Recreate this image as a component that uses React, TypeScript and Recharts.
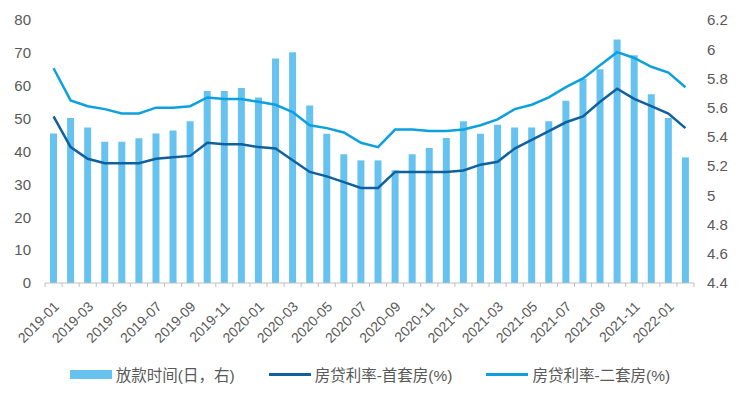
import { ComposedChart, Bar, Line, XAxis, YAxis, Legend } from 'recharts';

const months = [
  '2019-01', '2019-02', '2019-03', '2019-04', '2019-05', '2019-06', '2019-07', '2019-08', '2019-09', '2019-10', '2019-11', '2019-12',
  '2020-01', '2020-02', '2020-03', '2020-04', '2020-05', '2020-06', '2020-07', '2020-08', '2020-09', '2020-10', '2020-11', '2020-12',
  '2021-01', '2021-02', '2021-03', '2021-04', '2021-05', '2021-06', '2021-07', '2021-08', '2021-09', '2021-10', '2021-11', '2021-12',
  '2022-01', '2022-02',
];

// 放款时间(日)
const loanDays = [
  45.5, 50.2, 47.3, 43, 43, 44, 45.5, 46.4, 49.2, 58.4, 58.4, 59.3,
  56.4, 68.3, 70.2, 54, 45.4, 39.2, 37.3, 37.3, 34.3, 39.2, 41.1, 44.1,
  49.2, 45.4, 48.1, 47.3, 47.3, 49.2, 55.4, 62.1, 65, 74.1, 69.3, 57.4,
  50.2, 38.2,
];

// 房贷利率-首套房(%)
const firstHomeRate = [
  5.54, 5.33, 5.25, 5.22, 5.22, 5.22, 5.25, 5.26, 5.27, 5.36, 5.35, 5.35,
  5.33, 5.32, 5.24, 5.16, 5.13, 5.09, 5.05, 5.05, 5.16, 5.16, 5.16, 5.16,
  5.17, 5.21, 5.23, 5.32, 5.38, 5.44, 5.5, 5.54, 5.64, 5.73, 5.66, 5.61,
  5.56, 5.46,
];

// 房贷利率-二套房(%)
const secondHomeRate = [
  5.87, 5.65, 5.61, 5.59, 5.56, 5.56, 5.6, 5.6, 5.61, 5.67, 5.66, 5.66,
  5.64, 5.62, 5.57, 5.48, 5.46, 5.43, 5.36, 5.33, 5.45, 5.45, 5.44, 5.44,
  5.45, 5.48, 5.52, 5.59, 5.62, 5.67, 5.74, 5.8, 5.89, 5.98, 5.94, 5.88,
  5.84, 5.74,
];

const leftTicks = [0, 10, 20, 30, 40, 50, 60, 70, 80];
const rightTicks = [4.4, 4.6, 4.8, 5, 5.2, 5.4, 5.6, 5.8, 6, 6.2];

const data = months.map((m, i) => ({
  month: m,
  days: loanDays[i],
  first: firstHomeRate[i],
  second: secondHomeRate[i],
}));

const FONT = '"Liberation Sans", Arial, "Noto Sans CJK SC", sans-serif';
const TEXT = '#595959';
const BAR = '#66C3F0';
const DARK = '#11609E';
const LIGHT = '#0CA0DF';
const HALF_STEP = 8.53;

function MonthTick(props: any) {
  const { x, y, payload, index } = props;
  const i = index ?? payload.index;
  const tx = x + 3;
  const ty = y + 21;
  return (
    <g>
      <line x1={x - HALF_STEP} y1={y} x2={x - HALF_STEP} y2={y + 4} stroke="#BFBFBF" />
      {i === months.length - 1 && (
        <line x1={x + HALF_STEP} y1={y} x2={x + HALF_STEP} y2={y + 4} stroke="#BFBFBF" />
      )}
      {i % 2 === 0 && (
        <text
          x={tx}
          y={ty}
          transform={`rotate(-45, ${tx}, ${ty})`}
          textAnchor="end"
          dy="0.35em"
          fontSize={14}
          fill={TEXT}
          fontFamily={FONT}
        >
          {payload.value}
        </text>
      )}
    </g>
  );
}

function LegendBox() {
  const item = { display: 'flex', alignItems: 'center', gap: 4 };
  return (
    <div
      style={{
        height: 44,
        display: 'flex',
        justifyContent: 'center',
        alignItems: 'center',
        gap: 34,
        fontFamily: FONT,
        fontSize: 15.5,
        color: TEXT,
      }}
    >
      <div style={item}>
        <span style={{ width: 42, height: 9, background: BAR, display: 'inline-block' }} />
        <span>放款时间(日，右)</span>
      </div>
      <div style={item}>
        <span style={{ width: 42, height: 3, background: DARK, display: 'inline-block' }} />
        <span>房贷利率-首套房(%)</span>
      </div>
      <div style={item}>
        <span style={{ width: 42, height: 3, background: LIGHT, display: 'inline-block' }} />
        <span>房贷利率-二套房(%)</span>
      </div>
    </div>
  );
}

export default function App() {
  return (
    <div style={{ position: 'absolute', left: 0, top: 0, width: 740, height: 396, background: '#fff' }}>
      <ComposedChart
        width={740}
        height={396}
        data={data}
        margin={{ top: 20, right: 0, bottom: 0, left: 0 }}
        style={{ fontFamily: FONT }}
      >
        <XAxis
          dataKey="month"
          interval={0}
          height={69}
          tickSize={0}
          tickMargin={0}
          tickLine={false}
          axisLine={{ stroke: '#BFBFBF' }}
          tick={<MonthTick />}
        />
        <YAxis
          yAxisId="left"
          width={45}
          domain={[0, 80]}
          ticks={leftTicks}
          interval={0}
          axisLine={false}
          tickLine={false}
          tickSize={0}
          tickMargin={14}
          tick={{ fontSize: 15, fill: TEXT, fontFamily: FONT }}
        />
        <YAxis
          yAxisId="right"
          orientation="right"
          width={46}
          domain={[4.4, 6.2]}
          ticks={rightTicks}
          interval={0}
          axisLine={false}
          tickLine={false}
          tickSize={0}
          tickMargin={13}
          tickFormatter={(v: number) => String(+v.toFixed(1))}
          tick={{ fontSize: 15, fill: TEXT, fontFamily: FONT, textAnchor: 'start' }}
        />
        <Legend verticalAlign="bottom" content={<LegendBox />} />
        <Bar yAxisId="left" dataKey="days" name="放款时间(日，右)" fill={BAR} barSize={7} isAnimationActive={false} />
        <Line yAxisId="right" dataKey="first" name="房贷利率-首套房(%)" stroke={DARK} strokeWidth={2.5} dot={false} type="linear" isAnimationActive={false} />
        <Line yAxisId="right" dataKey="second" name="房贷利率-二套房(%)" stroke={LIGHT} strokeWidth={2.5} dot={false} type="linear" isAnimationActive={false} />
      </ComposedChart>
    </div>
  );
}
